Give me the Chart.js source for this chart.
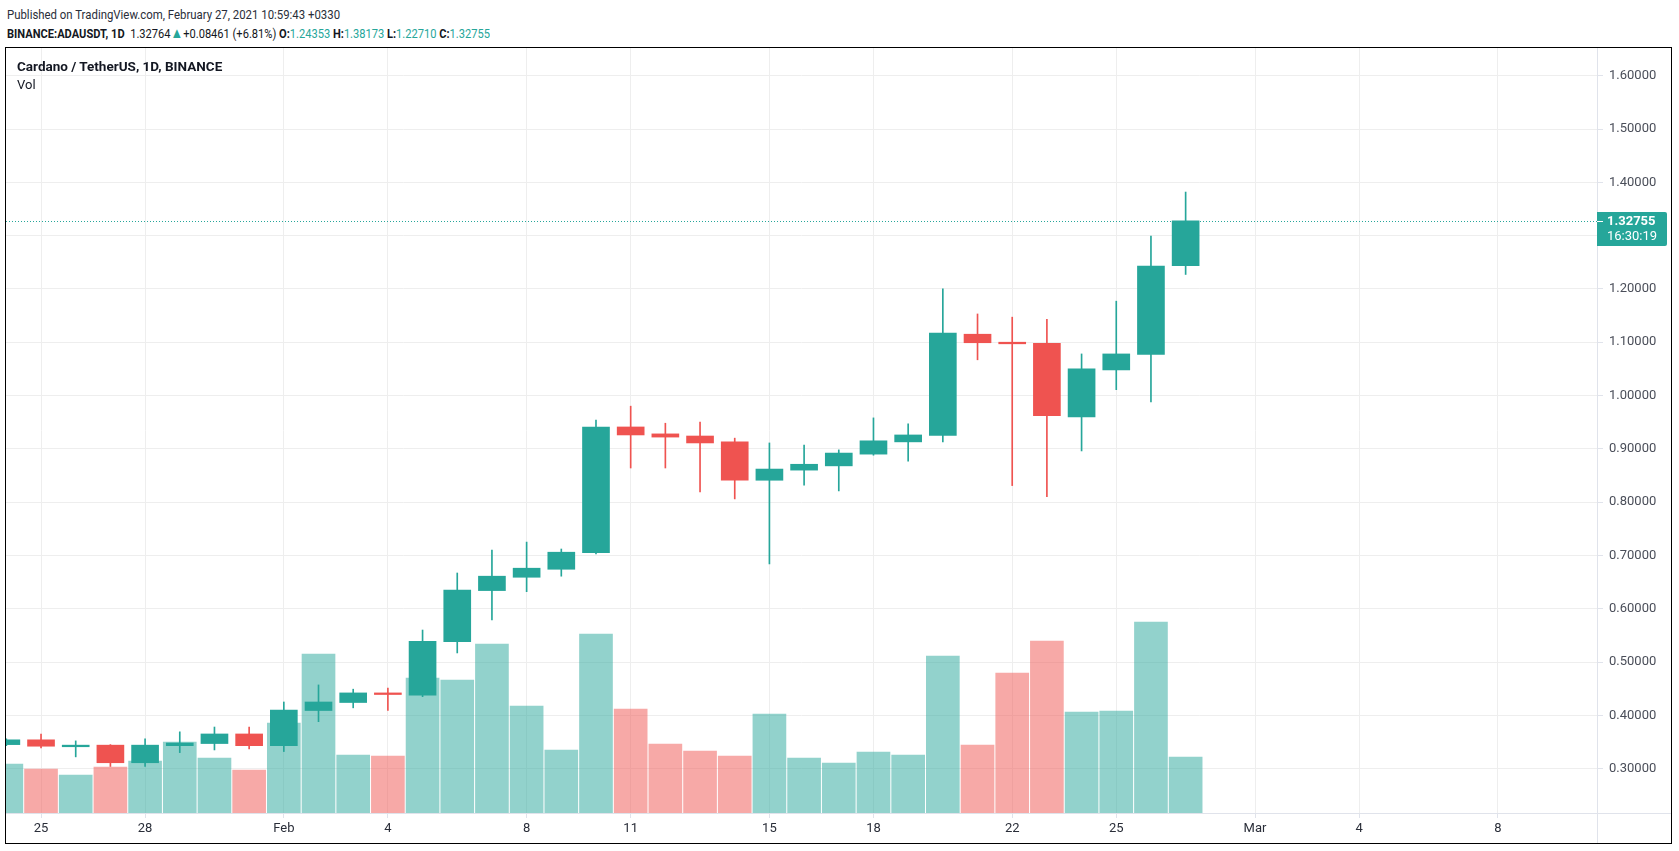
<!DOCTYPE html>
<html lang="en">
<head>
<meta charset="UTF-8">
<title>ADAUSDT 1D</title>
<script src="https://cdn.jsdelivr.net/npm/chart.js@4.4.1/dist/chart.umd.min.js"></script>
<style>
  html, body { margin: 0; padding: 0; background: #fff; }
  body { width: 1679px; height: 851px; position: relative; overflow: hidden; font-family: Roboto, "Noto Sans", sans-serif; color: #131722; }
  #chart { position: absolute; left: 0; top: 0; }
  #frame { position: absolute; left: 5px; top: 47px; width: 1665px; height: 795px; border: 1px solid #000; }
  .hdr { position: absolute; left: 7px; font-size: 13px; line-height: 16px; white-space: nowrap; transform-origin: 0 50%; }
  #pub { top: 7px; color: #2a2e39; }
  #sym { top: 25px; color: #131722; }
  .b { font-weight: bold; }
  .g { color: #26a69a; }
  .tri { color: #26a69a; font-size: 15px; }
  #title { position: absolute; left: 17px; top: 58px; font-size: 13.5px; font-weight: bold; color: #131722; }
  #vol { position: absolute; left: 17px; top: 77px; font-size: 13px; color: #131722; }
</style>
</head>
<body>
  <div class="hdr" id="pub">Published on TradingView.com, February 27, 2021 10:59:43 +0330</div>
  <div class="hdr" id="sym"><span class="b">BINANCE:ADAUSDT, 1D</span>&nbsp;&nbsp;1.32764<span class="tri">&#9650;</span>+0.08461 (+6.81%) <span class="b">O:</span><span class="g">1.24353</span> <span class="b">H:</span><span class="g">1.38173</span> <span class="b">L:</span><span class="g">1.22710</span> <span class="b">C:</span><span class="g">1.32755</span></div>
  <canvas id="chart" width="1679" height="851"></canvas>
  <div id="frame"></div>
  <div id="title">Cardano / TetherUS, 1D, BINANCE</div>
  <div id="vol">Vol</div>

<script>
// daily candles, Jan 24 - Feb 27 2021
const dates = [
  '2021-01-24', '2021-01-25', '2021-01-26', '2021-01-27', '2021-01-28', '2021-01-29', '2021-01-30', '2021-01-31',
  '2021-02-01', '2021-02-02', '2021-02-03', '2021-02-04', '2021-02-05', '2021-02-06', '2021-02-07', '2021-02-08',
  '2021-02-09', '2021-02-10', '2021-02-11', '2021-02-12', '2021-02-13', '2021-02-14', '2021-02-15', '2021-02-16',
  '2021-02-17', '2021-02-18', '2021-02-19', '2021-02-20', '2021-02-21', '2021-02-22', '2021-02-23', '2021-02-24',
  '2021-02-25', '2021-02-26', '2021-02-27'
];
const open = [
  0.345, 0.354, 0.341, 0.344, 0.311, 0.343, 0.347, 0.365,
  0.343, 0.409, 0.424, 0.442, 0.438, 0.538, 0.634, 0.659,
  0.674, 0.705, 0.941, 0.928, 0.924, 0.913, 0.841, 0.860,
  0.868, 0.890, 0.913, 0.925, 1.115, 1.100, 1.098, 0.960,
  1.048, 1.077, 1.24353
];
const high = [
  0.356, 0.365, 0.352, 0.345, 0.356, 0.369, 0.378, 0.378,
  0.425, 0.457, 0.449, 0.451, 0.560, 0.667, 0.710, 0.725,
  0.712, 0.954, 0.980, 0.948, 0.950, 0.920, 0.911, 0.907,
  0.898, 0.958, 0.947, 1.200, 1.153, 1.147, 1.143, 1.078,
  1.177, 1.299, 1.38173
];
const low = [
  0.343, 0.339, 0.322, 0.304, 0.304, 0.330, 0.335, 0.337,
  0.332, 0.388, 0.414, 0.409, 0.435, 0.517, 0.579, 0.632,
  0.661, 0.703, 0.864, 0.864, 0.819, 0.806, 0.684, 0.832,
  0.821, 0.888, 0.877, 0.913, 1.067, 0.831, 0.810, 0.896,
  1.011, 0.988, 1.22710
];
const close = [
  0.354, 0.342, 0.344, 0.311, 0.344, 0.348, 0.365, 0.343,
  0.410, 0.425, 0.442, 0.439, 0.539, 0.635, 0.661, 0.676,
  0.706, 0.941, 0.926, 0.922, 0.911, 0.841, 0.862, 0.871,
  0.892, 0.915, 0.926, 1.117, 1.099, 1.097, 0.962, 1.050,
  1.078, 1.243, 1.32755
];
// volume, millions of ADA
const volume = [
  490, 440, 380, 460, 520, 710, 550, 430,
  900, 1590, 580, 570, 1350, 1330, 1690, 1070,
  630, 1790, 1040, 690, 620, 570, 990, 550,
  500, 610, 580, 1570, 680, 1400, 1720, 1010,
  1020, 1910, 560
];

const tickDates = ['2021-01-25', '2021-01-28', '2021-02-01', '2021-02-04', '2021-02-08', '2021-02-11', '2021-02-15',
                   '2021-02-18', '2021-02-22', '2021-02-25', '2021-03-01', '2021-03-04', '2021-03-08'];
const tickLabels = ['25', '28', 'Feb', '4', '8', '11', '15', '18', '22', '25', 'Mar', '4', '8'];
const priceTicks = [0.3, 0.4, 0.5, 0.6, 0.7, 0.8, 0.9, 1.0, 1.1, 1.2, 1.3, 1.4, 1.5, 1.6];
const lastTime = '16:30:19';

const UP = '#26a69a';
const DOWN = '#ef5350';
const UP_VOL = 'rgba(38, 166, 154, 0.5)';
const DOWN_VOL = 'rgba(239, 83, 80, 0.5)';

// header lines are squeezed to the width they take in the original
function fitWidth(id, w) {
  const el = document.getElementById(id);
  el.style.transform = 'scaleX(' + (w / el.offsetWidth) + ')';
}
fitWidth('pub', 333);
fitWidth('sym', 483);

const dayOf = d => (Date.parse(d) - Date.parse('2021-02-01')) / 86400000;
const xs = dates.map(dayOf);
const tickX = tickDates.map(dayOf);
const isUp = close.map((c, i) => c >= open[i]);

Chart.defaults.font.family = 'Roboto, "Noto Sans", sans-serif';

const extras = {
  id: 'extras',
  afterDraw(chart) {
    const { ctx, chartArea } = chart;
    const y = chart.scales.y;
    ctx.save();
    // axis lines run on to the frame
    ctx.strokeStyle = '#e0e3eb';
    ctx.lineWidth = 1;
    ctx.beginPath();
    ctx.moveTo(chartArea.right + 0.5, chartArea.bottom);
    ctx.lineTo(chartArea.right + 0.5, 843);
    ctx.moveTo(chartArea.right, chartArea.bottom + 0.5);
    ctx.lineTo(1671, chartArea.bottom + 0.5);
    ctx.stroke();

    // last price line + label
    const last = close[close.length - 1];
    const py = Math.round(y.getPixelForValue(last)) + 0.5;
    ctx.strokeStyle = UP;
    ctx.setLineDash([1, 2]);
    ctx.beginPath();
    ctx.moveTo(chartArea.left, py);
    ctx.lineTo(chartArea.right, py);
    ctx.stroke();
    ctx.setLineDash([]);

    const bx = chartArea.right, bw = 70, bt = py - 9.5, bh = 34;
    ctx.fillStyle = UP;
    ctx.beginPath();
    ctx.roundRect(bx, bt, bw, bh, [0, 2, 2, 0]);
    ctx.fill();
    ctx.strokeStyle = '#ffffff';
    ctx.beginPath();
    ctx.moveTo(bx, py);
    ctx.lineTo(bx + 6, py);
    ctx.stroke();
    ctx.fillStyle = '#ffffff';
    ctx.textBaseline = 'middle';
    ctx.textAlign = 'left';
    ctx.font = 'bold 13px Roboto, "Noto Sans", sans-serif';
    ctx.fillText(last.toFixed(5), bx + 10, py);
    ctx.font = '13px Roboto, "Noto Sans", sans-serif';
    ctx.fillText(lastTime, bx + 10, py + 15);
    ctx.restore();
  }
};

new Chart(document.getElementById('chart'), {
  type: 'bar',
  data: {
    datasets: [
      {
        label: 'body',
        data: xs.map((x, i) => ({ x: x, y: [open[i], close[i]] })),
        backgroundColor: isUp.map(u => u ? UP : DOWN),
        barThickness: 27,
        minBarLength: 1,
        grouped: false,
        yAxisID: 'y',
        order: 1,
        clip: 0
      },
      {
        label: 'wick',
        data: xs.map((x, i) => ({ x: x, y: [low[i], high[i]] })),
        backgroundColor: isUp.map(u => u ? UP : DOWN),
        barThickness: 1,
        grouped: false,
        yAxisID: 'y',
        order: 2,
        clip: 0
      },
      {
        label: 'Vol',
        data: xs.map((x, i) => ({ x: x, y: volume[i] })),
        backgroundColor: isUp.map(u => u ? UP_VOL : DOWN_VOL),
        barThickness: 33,
        grouped: false,
        yAxisID: 'yv',
        order: 3,
        clip: 0
      }
    ]
  },
  options: {
    responsive: false,
    animation: false,
    layout: { padding: { left: 6, top: 48, right: 8, bottom: 8 } },
    plugins: { legend: { display: false }, tooltip: { enabled: false } },
    scales: {
      x: {
        type: 'linear',
        offset: false,
        min: -8.01,
        max: 37.86,
        afterBuildTicks: s => { s.ticks = tickX.map(v => ({ value: v })); },
        afterFit: s => { s.height = 30; },
        ticks: {
          autoSkip: false,
          maxRotation: 0,
          padding: 3,
          color: '#2a2e39',
          font: { size: 13 },
          callback: (v, i) => tickLabels[i]
        },
        grid: { offset: false, color: '#eeeeee', tickLength: 5, tickColor: '#e0e3eb' },
        border: { color: '#e0e3eb' }
      },
      y: {
        position: 'right',
        min: 0.2167,
        max: 1.652,
        afterBuildTicks: s => { s.ticks = priceTicks.map(v => ({ value: v })); },
        afterFit: s => { s.width = 74; },
        ticks: {
          padding: 6,
          color: '#4a4e59',
          font: { size: 13 },
          callback: v => v.toFixed(5)
        },
        grid: { color: '#eeeeee', tickLength: 6, tickColor: '#e0e3eb' },
        border: { color: '#e0e3eb' }
      },
      yv: {
        display: false,
        min: 0,
        max: 7650
      }
    }
  },
  plugins: [extras]
});
</script>
</body>
</html>
